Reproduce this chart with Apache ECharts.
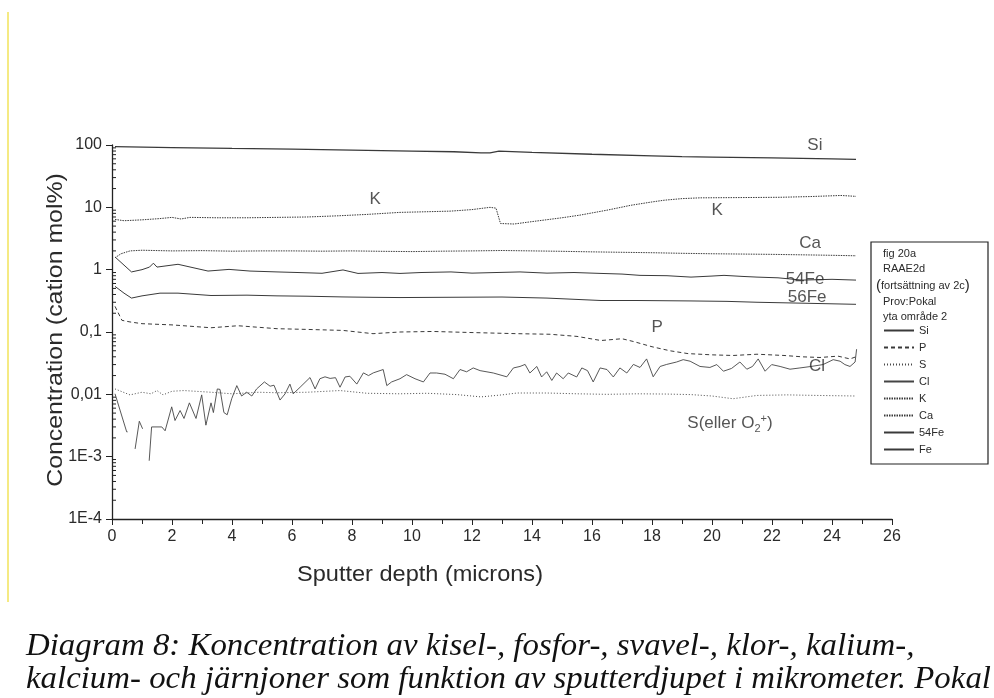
<!DOCTYPE html>
<html>
<head>
<meta charset="utf-8">
<script src="https://cdn.jsdelivr.net/npm/echarts@6/dist/echarts.min.js"></script>
<style>
  html, body { margin: 0; padding: 0; background: #ffffff; }
  #chart { width: 994px; height: 698px; }
</style>
</head>
<body>
<div id="chart"></div>
<script>
// Sputter depth profile, concentrations in cation mol%

const siDepth = [0.1, 2, 4, 6, 8, 10, 11.4, 12.3, 12.6, 12.9, 14, 16, 18, 19, 20, 22, 24, 24.8];
const siConc  = [94, 91, 88, 86, 83, 80, 78, 75, 75, 80, 76, 71, 67, 65, 64, 62, 60, 59];

const kDepth = [0.1, 0.4, 1.0, 1.6, 2.0, 2.3, 2.6, 3.5, 4.5, 5.5, 6.5, 7.5, 8.5, 9.6, 10.5, 11.3, 12.0, 12.6, 12.8, 12.95, 13.4, 14.0, 15.0, 15.6, 16.5, 17.3, 18.0, 18.4, 19.0, 19.6, 20.5, 21.5, 22.3, 23.3, 24.3, 24.8];
const kConc  = [6.4, 6.1, 6.3, 6.6, 6.9, 6.5, 6.9, 6.8, 6.8, 6.9, 7.0, 7.3, 7.7, 8.3, 8.5, 8.7, 9.2, 10.0, 9.7, 5.5, 5.4, 5.9, 6.8, 7.5, 9.0, 10.8, 12.2, 13.0, 13.8, 14.2, 14.3, 14.4, 14.5, 14.9, 15.5, 15.0];

const caDepth = [0.1, 0.3, 0.6, 1.0, 2, 3, 4, 5, 6, 7, 8, 9, 10, 11, 12, 13, 14, 15, 16, 17, 18, 19, 20, 21, 22, 23, 24, 24.8];
const caConc  = [1.55, 1.8, 2.0, 2.05, 2.0, 2.02, 1.98, 2.0, 2.0, 1.98, 2.0, 1.97, 1.95, 1.98, 2.0, 2.03, 2.0, 1.97, 1.93, 1.9, 1.87, 1.83, 1.8, 1.78, 1.76, 1.73, 1.7, 1.67];

const fe54Depth = [0.1, 0.65, 1.0, 1.25, 1.38, 1.5, 2.2, 3.2, 3.9, 4.6, 5.5, 6.2, 7.0, 7.7, 8.2, 9.0, 9.6, 10.3, 11.3, 12.0, 12.8, 13.6, 14.5, 15.4, 16.3, 17.0, 17.6, 18.5, 19.3, 20.0, 20.4, 21.0, 21.5, 22.2, 23.0, 24.0, 24.8];
const fe54Conc  = [1.6, 0.92, 1.0, 1.10, 1.27, 1.10, 1.22, 0.95, 1.01, 0.95, 0.92, 0.9, 0.875, 0.99, 0.87, 0.9, 0.87, 0.9, 0.92, 0.88, 0.9, 0.92, 0.88, 0.9, 0.87, 0.85, 0.81, 0.8, 0.76, 0.79, 0.81, 0.78, 0.76, 0.74, 0.68, 0.7, 0.68];

const fe56Depth = [0.1, 0.4, 0.65, 1.0, 1.6, 2.2, 3.3, 4.5, 5.5, 6.5, 7.7, 8.7, 9.6, 11, 13, 14.5, 16.3, 17.5, 19.3, 20.5, 21.5, 23, 24.8];
const fe56Conc  = [0.54, 0.42, 0.35, 0.38, 0.42, 0.42, 0.385, 0.39, 0.38, 0.375, 0.365, 0.36, 0.357, 0.36, 0.364, 0.35, 0.32, 0.32, 0.315, 0.31, 0.30, 0.29, 0.278];

const pDepth = [0.1, 0.33, 0.6, 1.0, 2.0, 3.3, 4.2, 5.5, 6.5, 7.7, 8.7, 9.6, 10.7, 12.0, 13.5, 14.6, 15.5, 16.3, 17.0, 17.4, 18.0, 18.6, 19.2, 20.0, 20.7, 21.5, 22.4, 23.0, 23.6, 24.2, 24.6, 24.8];
const pConc  = [0.258, 0.154, 0.145, 0.136, 0.13, 0.117, 0.126, 0.113, 0.11, 0.106, 0.094, 0.1, 0.102, 0.098, 0.094, 0.092, 0.085, 0.073, 0.078, 0.07, 0.058, 0.05, 0.045, 0.043, 0.042, 0.044, 0.042, 0.04, 0.039, 0.041, 0.037, 0.04];

const sDepth = [0.1, 0.6, 1.0, 1.3, 1.5, 1.7, 2.0, 2.4, 3.3, 4.0, 4.9, 5.5, 6.5, 7.6, 8.5, 9.6, 10.5, 11.5, 12.3, 13.0, 13.5, 14.5, 15.5, 16.5, 17.5, 18.5, 19.3, 20.0, 20.7, 21.5, 22.5, 23.5, 24.8];
const sConc  = [0.0122, 0.0098, 0.0108, 0.0102, 0.0115, 0.0098, 0.0112, 0.0115, 0.0108, 0.0102, 0.0108, 0.0106, 0.0108, 0.0115, 0.0104, 0.0102, 0.0104, 0.0099, 0.0091, 0.0098, 0.0105, 0.0105, 0.0102, 0.0100, 0.0102, 0.0101, 0.0099, 0.0094, 0.0085, 0.0096, 0.0098, 0.0096, 0.0094];

// null marks points below the detection limit (gaps in the trace)
const clDepth = [0.1, 0.49, 0.52, 0.65, 0.77, 0.91, 1.02, 1.12, 1.24, 1.32, 1.66, 1.77, 1.99, 2.1, 2.27, 2.4, 2.58, 2.8, 2.99, 3.13, 3.3, 3.38, 3.51, 3.6, 3.73, 3.84, 3.99, 4.16, 4.32, 4.49, 4.66, 4.82, 5.08, 5.27, 5.4, 5.6, 5.77, 5.93, 6.04, 6.27, 6.6, 6.77, 6.93, 7.1, 7.27, 7.45, 7.6, 7.77, 7.93, 8.16, 8.38, 8.55, 8.71, 9.04, 9.16, 9.32, 9.6, 9.82, 10.1, 10.38, 10.6, 10.82, 11.1, 11.38, 11.6, 11.82, 12.04, 12.27, 12.71, 13.16, 13.38, 13.6, 13.77, 13.93, 14.16, 14.32, 14.49, 14.66, 14.82, 15.04, 15.21, 15.49, 15.66, 15.85, 16.04, 16.27, 16.5, 16.71, 16.93, 17.16, 17.38, 17.6, 17.82, 18.04, 18.27, 18.49, 18.82, 19.04, 19.27, 19.6, 19.93, 20.16, 20.38, 20.65, 20.93, 21.16, 21.35, 21.54, 21.77, 21.99, 22.27, 22.6, 22.93, 23.3, 23.7, 24.04, 24.27, 24.43, 24.6, 24.77, 24.82];
const clConc  = [0.0102, 0.0025, 0.0025, null, 0.00133, 0.0037, 0.0028, null, 0.00086, 0.0030, 0.0030, 0.0026, 0.0063, 0.0038, 0.0055, 0.0041, 0.0073, 0.0041, 0.0098, 0.0032, 0.0073, 0.0051, 0.0122, 0.012, 0.0051, 0.0047, 0.0085, 0.0138, 0.0094, 0.0108, 0.0094, 0.0122, 0.0158, 0.0135, 0.0140, 0.0081, 0.0102, 0.0146, 0.0102, 0.0130, 0.0186, 0.0122, 0.0178, 0.0191, 0.018, 0.0185, 0.013, 0.019, 0.0195, 0.0146, 0.0221, 0.020, 0.0221, 0.025, 0.0138, 0.0158, 0.0178, 0.0207, 0.0178, 0.0158, 0.022, 0.022, 0.021, 0.0178, 0.025, 0.023, 0.0265, 0.024, 0.022, 0.0191, 0.0265, 0.028, 0.0302, 0.022, 0.028, 0.019, 0.023, 0.0167, 0.022, 0.0178, 0.022, 0.019, 0.0265, 0.024, 0.0158, 0.0265, 0.025, 0.019, 0.0265, 0.022, 0.0302, 0.027, 0.037, 0.0191, 0.028, 0.0302, 0.033, 0.036, 0.034, 0.028, 0.027, 0.030, 0.0235, 0.026, 0.033, 0.0253, 0.028, 0.037, 0.0235, 0.030, 0.028, 0.0253, 0.0265, 0.028, 0.030, 0.036, 0.034, 0.030, 0.028, 0.033, 0.053];

// axis ticks
const depthTicks = [0, 2, 4, 6, 8, 10, 12, 14, 16, 18, 20, 22, 24, 26];
const concTickLabels = ['1E-4', '1E-3', '0,01', '0,1', '1', '10', '100'];
const concMinorTicks = [];
for (let e = -4; e < 2; e++) {
  for (let m = 2; m <= 9; m++) concMinorTicks.push(m * Math.pow(10, e));
}

// in-plot element labels: [depth, concentration, text]
const curveLabels = [
  [23.43, 100, 'Si'],
  [8.77, 13.6, 'K'],
  [20.17, 9.0, 'K'],
  [23.27, 2.65, 'Ca'],
  [23.1, 0.70, '54Fe'],
  [23.17, 0.36, '56Fe'],
  [18.17, 0.119, 'P'],
  [23.5, 0.028, 'Cl'],
  [20.6, 0.0034, 'S(eller O{sub|2}{sup|+})']
];

const legendNames = ['Si', 'P', 'S', 'Cl', 'K', 'Ca', '54Fe', 'Fe'];
const boxHeader = ['fig 20a', 'RAAE2d', '{p|(}fortsättning av 2c{p|)}', 'Prov:Pokal', 'yta område 2'];
const captionLines = [
  'Diagram 8: Koncentration av kisel-, fosfor-, svavel-, klor-, kalium-,',
  'kalcium- och järnjoner som funktion av sputterdjupet i mikrometer. Pokal'
];

const SANS = '"Liberation Sans", Arial, Helvetica, sans-serif';
const INK = '#3a3a3a';

function pairs(xs, ys) {
  return xs.map((x, i) => [x, ys[i] === null ? '-' : ys[i]]);
}

function lineSeries(name, xs, ys, type, width, color) {
  return {
    name: name,
    type: 'line',
    data: pairs(xs, ys),
    symbol: 'none',
    connectNulls: false,
    silent: true,
    lineStyle: { color: color || INK, width: width, type: type },
    itemStyle: { color: color || INK },
    z: 3
  };
}

const chart = echarts.init(document.getElementById('chart'), null, { renderer: 'canvas' });

const boxLeft = 871, boxTop = 242, boxW = 117, boxH = 222;

const graphics = [
  // thin yellow margin rule at the left edge
  { type: 'line', shape: { x1: 8, y1: 12, x2: 8, y2: 602 }, style: { stroke: '#f2e35a', lineWidth: 1.5 }, silent: true },
  // axis names
  { type: 'text', x: 56, y: 330, rotation: Math.PI / 2, scaleX: 1.13,
    style: { text: 'Concentration (cation mol%)', font: '22px ' + SANS, fill: '#2a2a2a', align: 'center', verticalAlign: 'middle' } },
  { type: 'text', x: 420, y: 575, scaleX: 1.07,
    style: { text: 'Sputter depth (microns)', font: '22px ' + SANS, fill: '#2a2a2a', align: 'center', verticalAlign: 'middle' } },
  // legend frame
  { type: 'rect', shape: { x: boxLeft, y: boxTop, width: boxW, height: boxH }, style: { fill: 'none', stroke: '#222', lineWidth: 1.2 }, silent: true }
];

const headerY = [254, 269, 286, 302, 317];
boxHeader.forEach((t, i) => {
  graphics.push({
    type: 'text', x: i === 2 ? boxLeft + 5 : boxLeft + 12, y: headerY[i],
    style: {
      text: t, font: '11px ' + SANS, fill: '#2a2a2a', verticalAlign: 'middle',
      rich: { p: { fontSize: 15, fontFamily: SANS, fill: '#2a2a2a' } }
    }
  });
});

captionLines.forEach((t, i) => {
  graphics.push({
    type: 'text', x: 26, y: 647 + i * 33, scaleX: 1.06,
    style: { text: t, font: 'italic 31px "Liberation Serif", "Times New Roman", serif', fill: '#111', verticalAlign: 'middle' }
  });
});

const option = {
  animation: false,
  backgroundColor: '#ffffff',
  grid: { left: 112, top: 145, right: 102, bottom: 179, containLabel: false },
  xAxis: {
    type: 'value', min: 0, max: 26, interval: 2,
    axisLine: { show: true, lineStyle: { color: '#222', width: 1.3 } },
    axisTick: { show: true, length: 6, lineStyle: { color: '#222' } },
    minorTick: { show: true, splitNumber: 2, length: 5, lineStyle: { color: '#222' } },
    splitLine: { show: false },
    axisLabel: {
      color: '#2a2a2a', fontSize: 16, fontFamily: SANS, margin: 10,
      formatter: v => depthTicks.indexOf(v) >= 0 ? String(v) : ''
    }
  },
  yAxis: {
    type: 'log', logBase: 10, min: 0.0001, max: 100, splitNumber: 6,
    axisLine: { show: true, lineStyle: { color: '#222', width: 1.3 } },
    axisTick: { show: true, length: 6, lineStyle: { color: '#222' } },
    splitLine: { show: false },
    axisLabel: {
      color: '#2a2a2a', fontSize: 16, fontFamily: SANS, margin: 10,
      formatter: v => concTickLabels[Math.round(Math.log10(v)) + 4] || ''
    }
  },
  legend: {
    data: legendNames,
    orient: 'vertical',
    left: boxLeft + 7, top: boxTop + 78,
    itemWidth: 30, itemHeight: 10, itemGap: 6,
    selectedMode: false,
    itemStyle: { opacity: 0 },
    textStyle: { color: '#2a2a2a', fontSize: 11, fontFamily: SANS, lineHeight: 10 }
  },
  series: [
    lineSeries('Si', siDepth, siConc, 'solid', 1.3),
    lineSeries('P', pDepth, pConc, [4, 3], 1),
    lineSeries('S', sDepth, sConc, [1, 2], 1, '#4a4a4a'),
    lineSeries('Cl', clDepth, clConc, 'solid', 0.9, '#454545'),
    lineSeries('K', kDepth, kConc, [1.5, 1], 1),
    lineSeries('Ca', caDepth, caConc, [1.5, 1], 1),
    lineSeries('54Fe', fe54Depth, fe54Conc, 'solid', 1),
    lineSeries('Fe', fe56Depth, fe56Conc, 'solid', 1),
    {
      // logarithmic minor ticks on the concentration axis
      name: 'minorTicks',
      type: 'custom',
      silent: true,
      clip: false,
      data: concMinorTicks.map(v => [0, v]),
      renderItem: (params, api) => {
        const p = api.coord([0, api.value(1)]);
        return { type: 'line', shape: { x1: p[0], y1: p[1], x2: p[0] + 4, y2: p[1] }, style: { stroke: '#222', lineWidth: 1 } };
      },
      z: 4
    },
    {
      name: 'curveLabels',
      type: 'scatter',
      silent: true,
      symbolSize: 0,
      data: curveLabels.map(l => [l[0], l[1], l[2]]),
      label: {
        show: true, position: 'inside',
        formatter: p => p.data[2],
        color: '#2a2a2a', fontSize: 17, fontFamily: SANS,
        rich: {
          sub: { fontSize: 11, fontFamily: SANS, color: '#2a2a2a', padding: [10, 0, 0, 0] },
          sup: { fontSize: 11, fontFamily: SANS, color: '#2a2a2a', padding: [0, 0, 10, 0] }
        }
      },
      z: 5
    }
  ],
  graphic: graphics
};

chart.setOption(option);
</script>
</body>
</html>
